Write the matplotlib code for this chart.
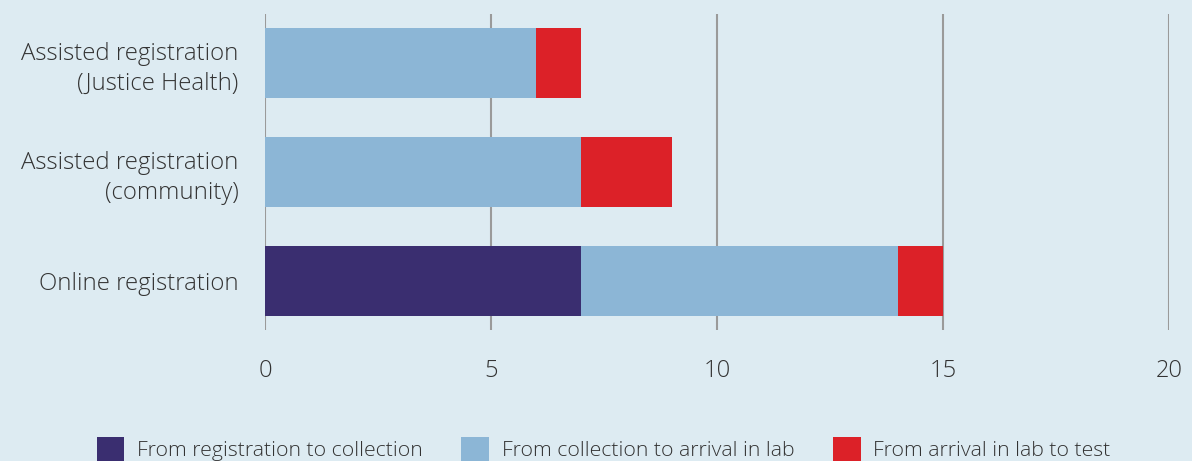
import matplotlib.pyplot as plt
from matplotlib.patches import Patch

# Data (bottom to top)
categories = ["Online registration", "Assisted registration\n(community)", "Assisted registration\n(Justice Health)"]
reg_to_collection = [7, 0, 0]
collection_to_lab = [7, 7, 6]
lab_to_test = [1, 2, 1]
series_names = ["From registration to collection", "From collection to arrival in lab", "From arrival in lab to test"]
colors = ["#3a2e70", "#8cb6d6", "#dc2128"]
bg = "#ddebf2"

plt.rcParams['font.family'] = ['Open Sans', 'DejaVu Sans']

fig = plt.figure(figsize=(11.92, 4.61), dpi=100, facecolor=bg)
ax = fig.add_axes([0.2223, 0.2842, 0.7584, 0.6854], facecolor=bg)

y = list(range(len(categories)))
left = [0] * len(categories)
for vals, col in zip([reg_to_collection, collection_to_lab, lab_to_test], colors):
  ax.barh(y, vals, left=left, height=0.64, color=col, zorder=3)
  left = [a + b for a, b in zip(left, vals)]

ax.set_xlim(0, 20)
ax.set_ylim(-0.45, 2.45)
ax.set_xticks([0, 5, 10, 15, 20])
ax.set_yticks(y)
ax.set_yticklabels(categories, fontsize=17.3, fontweight='light', color="#333333",
                   ha='right', linespacing=1.32)
ax.tick_params(axis='x', labelsize=17, length=0, pad=21, labelcolor="#333333")
ax.tick_params(axis='y', length=0, pad=19)
for lbl in ax.get_xticklabels():
  lbl.set_fontweight('light')
# nudge the two-line labels up a little
for lbl in ax.get_yticklabels()[1:]:
  lbl.set_va('center_baseline')
ax.grid(axis='x', color="#9a9a9a", linewidth=1.5, zorder=0)
for s in ax.spines.values():
  s.set_visible(False)

handles = [Patch(facecolor=c, label=n) for c, n in zip(colors, series_names)]
leg = fig.legend(handles=handles, loc='center left', bbox_to_anchor=(0.065, 0.025), ncol=3,
                 frameon=False, fontsize=15.3, handlelength=1.3, handleheight=1.5,
                 columnspacing=1.82, handletextpad=0.6)
for t in leg.get_texts():
  t.set_fontweight('light')
  t.set_color("#333333")

fig.savefig("out.png", dpi=100, facecolor=bg)
